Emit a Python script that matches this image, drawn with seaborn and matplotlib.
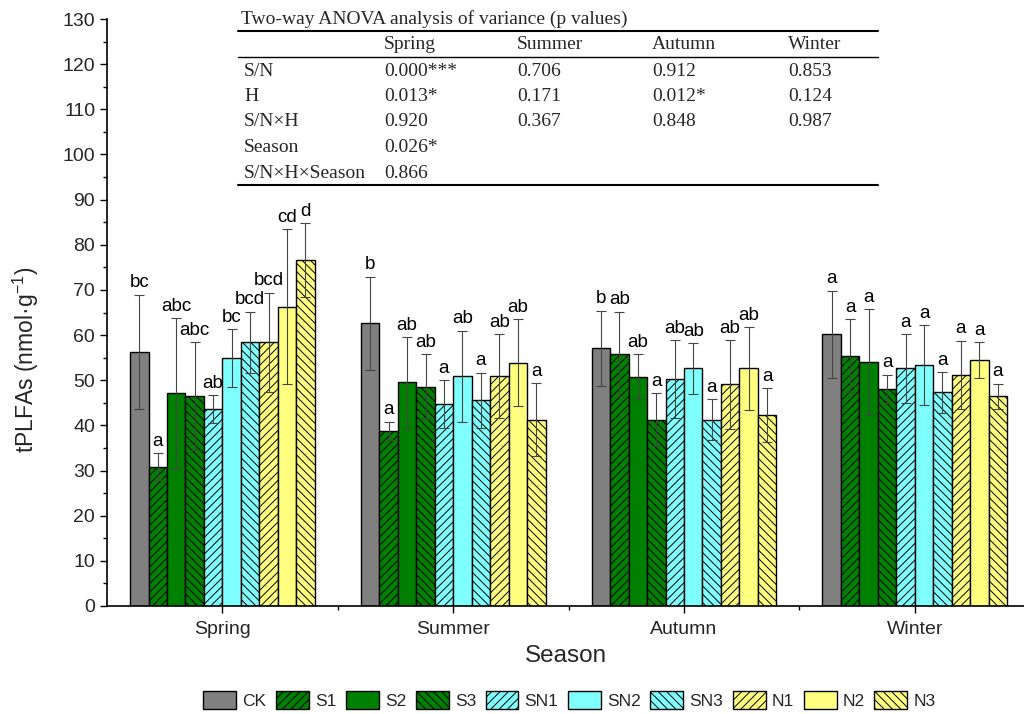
import matplotlib
matplotlib.use("Agg")
import matplotlib.pyplot as plt
from matplotlib.patches import Patch
from matplotlib.lines import Line2D
from matplotlib.ticker import MultipleLocator, FixedLocator
import numpy as np
import pandas as pd
import seaborn as sns

seasons = ["Spring", "Summer", "Autumn", "Winter"]
treatments = ["CK", "S1", "S2", "S3", "SN1", "SN2", "SN3", "N1", "N2", "N3"]

spring = [56.3, 30.8, 47.1, 46.5, 43.6, 54.9, 58.4, 58.4, 66.3, 76.6]
spring_err = [12.6, 3.0, 16.6, 11.9, 3.1, 6.4, 6.8, 11.0, 17.1, 8.2]
summer = [62.6, 38.8, 49.5, 48.6, 44.7, 50.9, 45.6, 50.9, 53.9, 41.3]
summer_err = [10.3, 2.0, 10.0, 7.1, 5.3, 10.1, 6.1, 9.3, 9.6, 8.0]
autumn = [57.1, 55.8, 50.8, 41.3, 50.3, 52.6, 41.3, 49.1, 52.6, 42.3]
autumn_err = [8.3, 9.4, 4.9, 5.8, 8.6, 5.6, 4.5, 9.8, 9.1, 5.9]
winter = [60.2, 55.4, 54.0, 48.1, 52.6, 53.4, 47.3, 51.2, 54.5, 46.4]
winter_err = [9.6, 8.1, 11.7, 3.1, 7.6, 8.8, 4.5, 7.5, 3.9, 2.8]

spring_letters = ["bc", "a", "abc", "abc", "ab", "bc", "bcd", "bcd", "cd", "d"]
summer_letters = ["b", "a", "ab", "ab", "a", "ab", "a", "ab", "ab", "a"]
autumn_letters = ["b", "ab", "ab", "a", "ab", "ab", "a", "ab", "ab", "a"]
winter_letters = ["a", "a", "a", "a", "a", "a", "a", "a", "a", "a"]

table_title = "Two-way ANOVA analysis of variance (p values)"
table_cols = ["Spring", "Summer", "Autumn", "Winter"]
table_rows = ["S/N", "H", "S/N×H", "Season", "S/N×H×Season"]
table_vals = [
    ["0.000***", "0.706", "0.912", "0.853"],
    ["0.013*", "0.171", "0.012*", "0.124"],
    ["0.920", "0.367", "0.848", "0.987"],
    ["0.026*", "", "", ""],
    ["0.866", "", "", ""],
]

colors = ["#808080", "#008000", "#008000", "#008000",
          "#80FFFF", "#80FFFF", "#80FFFF",
          "#FFFF80", "#FFFF80", "#FFFF80"]
hatches = ["", "////", "", "\\\\\\\\", "////", "", "\\\\\\\\", "////", "", "\\\\\\\\"]

means = [spring, summer, autumn, winter]
errs = [spring_err, summer_err, autumn_err, winter_err]
letters = [spring_letters, summer_letters, autumn_letters, winter_letters]

rows = []
for si, s in enumerate(seasons):
    for ti, t in enumerate(treatments):
        rows.append({"Season": s, "Treatment": t, "value": means[si][ti],
                     "err": errs[si][ti], "letter": letters[si][ti]})
df = pd.DataFrame(rows)

sns.set_theme(style="ticks")
plt.rcParams["font.family"] = ["Liberation Sans", "DejaVu Sans"]
plt.rcParams["mathtext.default"] = "regular"
plt.rcParams["hatch.linewidth"] = 0.7

W, H = 1024, 714
fig = plt.figure(figsize=(W / 100, H / 100), dpi=100)
ax = fig.add_axes([107 / W, 108 / H, (W - 107) / W, 587 / H])

palette = dict(zip(treatments, colors))
sns.barplot(data=df, x="Season", y="value", hue="Treatment", order=seasons,
            hue_order=treatments, palette=palette, errorbar=None, width=0.8,
            gap=0, saturation=1, edgecolor="black", linewidth=1.0,
            legend=False, ax=ax)

bar_containers = list(ax.containers)
for ti, cont in enumerate(bar_containers):
    xs, ys, es = [], [], []
    for si, bar in enumerate(cont.patches):
        bar.set_hatch(hatches[ti])
        x = bar.get_x() + bar.get_width() / 2
        y = bar.get_height()
        sub = df[(df.Season == seasons[si]) & (df.Treatment == treatments[ti])].iloc[0]
        xs.append(x); ys.append(y); es.append(sub.err)
        ax.annotate(sub.letter, (x, y + sub.err), xytext=(0, 2.5),
                    textcoords="offset points", ha="center", va="bottom",
                    fontsize=13.5, color="black")
    ax.errorbar(xs, ys, yerr=es, fmt="none", ecolor="#454545",
                elinewidth=0.8, capsize=3.5, capthick=0.8, zorder=5)

ax.set_xlim(-0.5, (W - 221.7) / 231.0)
ax.set_ylim(0, 130)
ax.yaxis.set_major_locator(MultipleLocator(10))
ax.yaxis.set_minor_locator(MultipleLocator(5))
ax.xaxis.set_minor_locator(FixedLocator([0.5, 1.5, 2.5]))
ax.tick_params(axis="both", which="major", direction="out", length=5,
               width=1, labelsize=14, color="black")
ax.tick_params(axis="both", which="minor", direction="out", length=3,
               width=1, color="black")
ax.tick_params(axis="x", labelsize=14, pad=6)
for sp in ["top", "right"]:
    ax.spines[sp].set_visible(False)
for sp in ["left", "bottom"]:
    ax.spines[sp].set_linewidth(1.2)
    ax.spines[sp].set_color("black")
ax.set_facecolor("white")
ax.set_xlabel("Season", fontsize=17.5, labelpad=5)
ax.set_ylabel("tPLFAs (nmol·g$^{-1}$)", fontsize=16.5)
ax.yaxis.set_label_coords((41 - 107) / 917, (606 - 360) / 587)

# legend
handles = [Patch(facecolor=c, edgecolor="black", hatch=h, linewidth=1.0)
           for c, h in zip(colors, hatches)]
fig.legend(handles, treatments, loc="center", bbox_to_anchor=(0.556, 0.020),
           ncol=10, frameon=False, fontsize=12.5, handlelength=1.9,
           handleheight=1.25, columnspacing=0.55, handletextpad=0.35)

# ANOVA table
def fx(px):
    return px / W

def fy(py):
    return 1 - py / H

serif = ["Liberation Serif", "DejaVu Serif"]
tfs = 14
fig.text(fx(241), fy(19), table_title, family=serif, fontsize=tfs,
         ha="left", va="center")
for py, lw in [(30.5, 1.5), (56.5, 1.0), (185.3, 1.5)]:
    fig.add_artist(Line2D([fx(238), fx(878)], [fy(py), fy(py)],
                          transform=fig.transFigure, color="black", lw=lw))
col_x = [384, 517, 652, 788]
for cx, c in zip(col_x, table_cols):
    fig.text(fx(cx), fy(44.5), c, family=serif, fontsize=tfs, ha="left", va="center")
row_y = [71.0, 96.5, 122.0, 147.5, 173.0]
for ry, rname, vals in zip(row_y, table_rows, table_vals):
    fig.text(fx(244), fy(ry), rname, family=serif, fontsize=tfs, ha="left", va="center")
    for cx, v in zip(col_x, vals):
        if v:
            fig.text(fx(cx), fy(ry), v, family=serif, fontsize=tfs,
                     ha="left", va="center")

fig.savefig("out.png", dpi=100, facecolor="white")
